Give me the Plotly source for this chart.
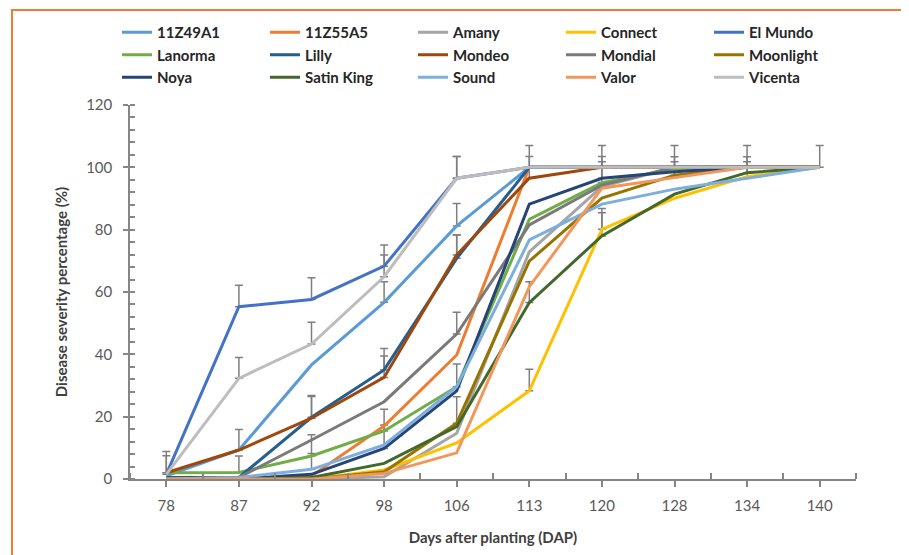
import plotly.graph_objects as go

days = ["78", "87", "92", "98", "106", "113", "120", "128", "134", "140"]

names = ["11Z49A1", "11Z55A5", "Amany", "Connect", "El Mundo",
         "Lanorma", "Lilly", "Mondeo", "Mondial", "Moonlight",
         "Noya", "Satin King", "Sound", "Valor", "Vicenta"]

colors = ["#5B9BD5", "#ED7D31", "#A5A5A5", "#FFC000", "#4472C4",
          "#70AD47", "#255E91", "#9E480E", "#7A7A7A", "#997300",
          "#264478", "#43682B", "#7CAFDD", "#F1975A", "#BDBDBD"]

v_11Z49A1 = [1, 9.3, 36.6, 56.7, 81.2, 100, 100, 100, 100, 100]
v_11Z55A5 = [0, 0, 1, 17.0, 39.8, 100, 100, 100, 100, 100]
v_Amany = [0, 0, 0, 0.7, 14.7, 72.9, 93.8, 100, 100, 100]
v_Connect = [0, 0, 0, 2.9, 11.6, 28.3, 80.1, 90.1, 97, 100]
v_ElMundo = [1.5, 55.3, 57.6, 68.3, 96.5, 100, 100, 100, 100, 100]
v_Lanorma = [2, 2.1, 7.4, 15.4, 29.6, 83.3, 95.1, 99.5, 100, 100]
v_Lilly = [0.5, 0.5, 19.8, 35.0, 70.8, 100, 100, 100, 100, 100]
v_Mondeo = [2, 9.3, 19.5, 32.6, 71.9, 96.5, 100, 100, 100, 100]
v_Mondial = [0, 0.5, 12.5, 24.8, 46.5, 81.5, 94.3, 100, 100, 100]
v_Moonlight = [0, 0, 0, 2.3, 17.9, 69.9, 90.1, 97.5, 100, 100]
v_Noya = [0, 0, 1.5, 9.8, 28.3, 88.2, 96.5, 98.6, 100, 100]
v_SatinKing = [0, 0, 0.5, 5.0, 16.8, 56.6, 78.0, 91.4, 98.3, 100]
v_Sound = [0, 0.5, 3.1, 10.9, 29.6, 76.7, 88.2, 93.0, 96.5, 100]
v_Valor = [0, 0, 0, 1.8, 8.4, 61.7, 93.3, 96.7, 100, 100]
v_Vicenta = [1.5, 32.3, 43.3, 64.9, 96.5, 100, 100, 100, 100, 100]

# upper error bars (0 = no bar shown)
e_11Z49A1 = [0, 6.6, 0, 6.6, 7.2, 0, 0, 0, 0, 0]
e_11Z55A5 = [0, 0, 0, 0, 0, 0, 0, 0, 0, 0]
e_Amany = [0, 0, 0, 0, 0, 0, 0, 0, 0, 0]
e_Connect = [0, 0, 0, 0, 0, 6.9, 6.7, 0, 0, 0]
e_ElMundo = [7.3, 6.9, 7.0, 6.8, 7.0, 7.0, 7.0, 7.0, 7.0, 7.0]
e_Lanorma = [0, 5.3, 6.8, 7.0, 7.3, 0, 6.7, 0, 0, 0]
e_Lilly = [0, 0, 7.0, 6.9, 7.5, 0, 0, 0, 0, 0]
e_Mondeo = [5.5, 0, 7.0, 6.9, 6.4, 7.0, 0, 0, 0, 0]
e_Mondial = [0, 0, 0, 0, 7.0, 0, 0, 0, 0, 0]
e_Moonlight = [0, 0, 0, 0, 8.5, 0, 0, 5.9, 0, 0]
e_Noya = [0, 0, 0, 7.5, 0, 0, 7.0, 0, 0, 0]
e_SatinKing = [0, 0, 0, 0, 0, 6.7, 7.4, 0, 5.1, 0]
e_Sound = [0, 0, 5.1, 0, 0, 0, 0, 0, 5.3, 0]
e_Valor = [0, 0, 0, 0, 0, 0, 0, 5.1, 0, 0]
e_Vicenta = [0, 6.7, 7.0, 7.0, 7.0, 0, 0, 0, 0, 0]

values = [v_11Z49A1, v_11Z55A5, v_Amany, v_Connect, v_ElMundo,
          v_Lanorma, v_Lilly, v_Mondeo, v_Mondial, v_Moonlight,
          v_Noya, v_SatinKing, v_Sound, v_Valor, v_Vicenta]
errors = [e_11Z49A1, e_11Z55A5, e_Amany, e_Connect, e_ElMundo,
          e_Lanorma, e_Lilly, e_Mondeo, e_Mondial, e_Moonlight,
          e_Noya, e_SatinKing, e_Sound, e_Valor, e_Vicenta]

xpos = list(range(len(days)))

fig = go.Figure()

# error bars (drawn below the lines)
for name, vals, errs in zip(names, values, errors):
    idx = [i for i, e in enumerate(errs) if e > 0]
    if not idx:
        continue
    fig.add_trace(go.Scatter(
        x=[xpos[i] for i in idx], y=[vals[i] for i in idx],
        mode="markers", marker=dict(size=1, opacity=0),
        error_y=dict(type="data", symmetric=False,
                     array=[errs[i] for i in idx],
                     arrayminus=[0] * len(idx),
                     color="#7F7F7F", thickness=1.5, width=4),
        showlegend=False, hoverinfo="skip"))

for name, vals, col in zip(names, values, colors):
    fig.add_trace(go.Scatter(
        x=xpos, y=vals, mode="lines", name=name,
        line=dict(color=col, width=3)))

# page offset (body margin) of the figure
OFF = 8
W, H = 909, 555
# plot area edges in page pixels
PL, PR, PT, PB = 130, 856, 105, 479
L = PL - OFF
T = PT - OFF
R = W - (PR - OFF)
B = H - (PB - OFF)
pw, ph = W - L - R, H - T - B

def px_x(p):
    return (p - OFF - L) / pw

def px_y(p):
    return (H - B - (p - OFF)) / ph

font_family = "Lato, Liberation Sans, sans-serif"

fig.update_layout(
    width=W, height=H,
    margin=dict(l=L, r=R, t=T, b=B, autoexpand=False),
    paper_bgcolor="white", plot_bgcolor="white",
    font=dict(family=font_family, size=15, color="#595959"),
    showlegend=True,
    legend=dict(orientation="h", x=px_x(117), xanchor="left",
                y=px_y(16), yanchor="top",
                entrywidth=103, entrywidthmode="pixels",
                font=dict(family=font_family, size=15, color="#262626", weight="bold"),
                bgcolor="rgba(0,0,0,0)", tracegroupgap=0, traceorder="normal"),
    xaxis=dict(range=[-0.5, len(days) - 0.5], tickmode="array",
               tickvals=xpos, ticktext=days, automargin=False,
               showgrid=False, zeroline=False,
               showline=True, linecolor="#868686", linewidth=1.5,
               ticks="outside", ticklen=6, tickwidth=1.5, tickcolor="#868686",
               ticklabelstandoff=6,
               minor=dict(tickmode="array",
                          tickvals=[i - 0.5 for i in range(len(days) + 1)],
                          ticks="inside", ticklen=6, tickwidth=1.5,
                          tickcolor="#868686", showgrid=False),
               title=dict(text="Days after planting (DAP)", standoff=20,
                          font=dict(family=font_family, size=15, color="#404040", weight="bold"))),
    yaxis=dict(range=[0, 120], dtick=20, tick0=0, automargin=False,
               showgrid=False, zeroline=False,
               showline=True, linecolor="#868686", linewidth=1.5,
               ticks="outside", ticklen=5, tickwidth=1.5, tickcolor="#868686",
               ticklabelstandoff=8,
               minor=dict(dtick=4, ticks="inside", ticklen=5, tickwidth=1.5,
                          tickcolor="#868686", showgrid=False),
               title=dict(text="Disease severity percentage (%)", standoff=15,
                          font=dict(family=font_family, size=15, color="#404040", weight="bold"))),
    shapes=[dict(type="rect", xref="paper", yref="paper",
                 x0=px_x(12), x1=px_x(907), y0=px_y(570), y1=px_y(10),
                 line=dict(color="#ED7D31", width=2), fillcolor="rgba(0,0,0,0)",
                 layer="below")],
)

fig.write_html("out.html")
